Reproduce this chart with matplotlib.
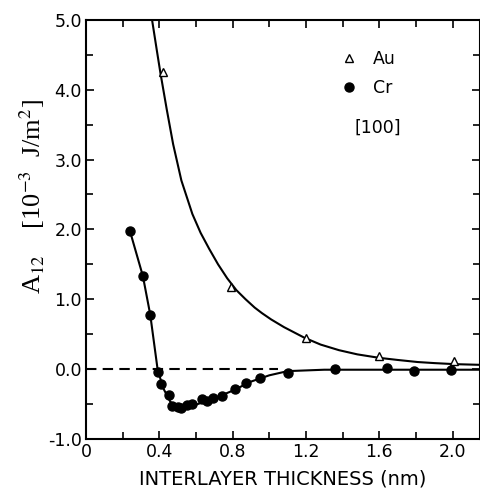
import matplotlib

matplotlib.use("Agg")

import matplotlib.pyplot as plt
from matplotlib.ticker import MultipleLocator, FixedLocator, FixedFormatter


# measured points
au_x = [0.42, 0.79, 1.20, 1.60, 2.01]
au_y = [4.25, 1.18, 0.44, 0.19, 0.12]

cr_x = [0.24, 0.31, 0.35, 0.39, 0.41, 0.45, 0.47, 0.50, 0.52, 0.55, 0.58,
        0.63, 0.66, 0.69, 0.74, 0.81, 0.87, 0.95, 1.10, 1.36, 1.64, 1.79, 1.99]
cr_y = [1.97, 1.33, 0.78, -0.04, -0.21, -0.37, -0.53, -0.55, -0.56, -0.51, -0.50,
        -0.43, -0.46, -0.42, -0.38, -0.29, -0.20, -0.13, -0.05, 0.00, 0.01, -0.03, -0.01]

# fitted curves
au_fit_x = [0.36, 0.385, 0.405, 0.44, 0.475, 0.52, 0.58, 0.625, 0.672, 0.72,
            0.77, 0.82, 0.87, 0.92, 0.96, 1.01, 1.08, 1.19, 1.28, 1.38,
            1.48, 1.60, 1.70, 1.81, 1.90, 2.01, 2.15]
au_fit_y = [5.00, 4.58, 4.25, 3.72, 3.22, 2.70, 2.22, 1.95, 1.72, 1.50,
            1.30, 1.13, 1.00, 0.88, 0.80, 0.71, 0.60, 0.45, 0.35, 0.27,
            0.21, 0.16, 0.13, 0.10, 0.085, 0.07, 0.06]

cr_fit_x = [0.24, 0.31, 0.35, 0.39, 0.42, 0.46, 0.50, 0.55, 0.60, 0.70,
            0.80, 0.90, 1.00, 1.10, 1.30, 1.60, 2.15]
cr_fit_y = [1.97, 1.33, 0.78, 0.00, -0.27, -0.47, -0.56, -0.56, -0.51, -0.42,
            -0.31, -0.18, -0.09, -0.03, -0.01, -0.01, -0.01]

zero_x = [0.0, 1.05]
zero_y = [0.0, 0.0]

x_ticks = [0.0, 0.4, 0.8, 1.2, 1.6, 2.0]
x_tick_labels = ["0", "0.4", "0.8", "1.2", "1.6", "2.0"]
y_ticks = [-1.0, 0.0, 1.0, 2.0, 3.0, 4.0, 5.0]
y_tick_labels = ["-1.0", "0.0", "1.0", "2.0", "3.0", "4.0", "5.0"]


def main() -> None:
    plt.rcParams["font.family"] = ["DejaVu Sans"]
    plt.rcParams["mathtext.fontset"] = "stix"

    fig = plt.figure(figsize=(4.81, 4.97), dpi=100)
    ax = fig.add_axes([0.179, 0.117, 0.819, 0.843])

    ax.plot(zero_x, zero_y, color="black", lw=1.5, ls=(0, (5, 3)))
    ax.plot(au_fit_x, au_fit_y, color="black", lw=1.5)
    ax.plot(cr_fit_x, cr_fit_y, color="black", lw=1.5)

    ax.plot(au_x, au_y, ls="none", marker="^", ms=6, mfc="white", mec="black",
            mew=1.0, label="Au", zorder=3)
    ax.plot(cr_x, cr_y, ls="none", marker="o", ms=6.5, color="black",
            label="Cr", zorder=3)

    ax.set_xlim(0, 2.15)
    ax.set_ylim(-1.0, 5.0)

    ax.xaxis.set_major_locator(FixedLocator(x_ticks))
    ax.xaxis.set_major_formatter(FixedFormatter(x_tick_labels))
    ax.xaxis.set_minor_locator(MultipleLocator(0.2))
    ax.yaxis.set_major_locator(FixedLocator(y_ticks))
    ax.yaxis.set_major_formatter(FixedFormatter(y_tick_labels))
    ax.yaxis.set_minor_locator(MultipleLocator(0.5))
    ax.tick_params(which="both", direction="in", top=True, right=True,
                   labelsize=12.5, width=1.2, pad=3)
    ax.tick_params(which="major", length=6)
    ax.tick_params(which="minor", length=5)
    for s in ax.spines.values():
        s.set_linewidth(1.5)

    ax.set_xlabel("INTERLAYER THICKNESS (nm)", fontsize=14, labelpad=6)
    ax.set_ylabel(r"A$_{12}$    [10$^{-3}$  J/m$^2$]", fontsize=19,
                  family=["Liberation Serif", "DejaVu Serif"])
    ax.yaxis.set_label_coords(-0.1, 0.578)

    ax.legend(loc="upper left", bbox_to_anchor=(0.6, 0.965), frameon=False,
              fontsize=12.5, handlelength=1.2, handletextpad=0.8,
              labelspacing=0.6)
    ax.text(0.74, 0.742, "[100]", transform=ax.transAxes, fontsize=12.5,
            ha="center", va="center")

    fig.savefig("out.png", dpi=100)
    plt.close(fig)


if __name__ == "__main__":
    main()
